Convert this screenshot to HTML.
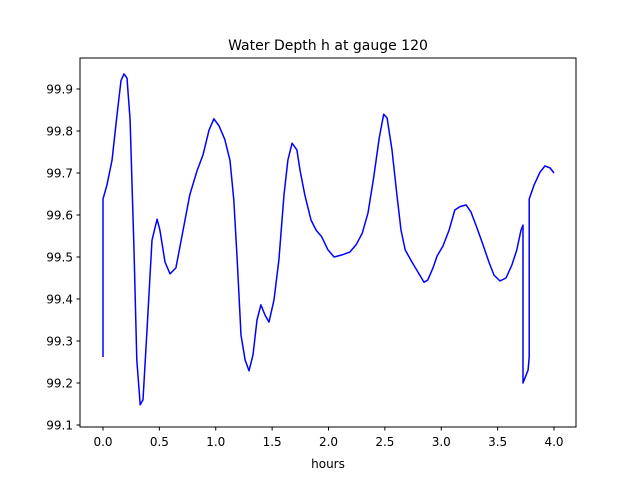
<!DOCTYPE html>
<html><head><meta charset="utf-8"><style>
body{margin:0;background:#fff}
svg{display:block;font-family:"DejaVu Sans","Liberation Sans",sans-serif}
</style></head><body>
<svg id="chart" width="640" height="480">
<rect x="0" y="0" width="640" height="480" fill="#fff"/>
<text x="328" y="50" text-anchor="middle" font-size="14">Water Depth h at gauge 120</text>
<g id="ticks"></g>
<path id="line" fill="none" stroke="#0000ff" stroke-width="1.5" stroke-linejoin="round"/>
<rect x="80" y="58" width="496" height="369" fill="none" stroke="#000" stroke-width="1"/>
<text x="328" y="468" text-anchor="middle" font-size="12">hours</text>
</svg>
<script>
const xTicks=[0,0.5,1,1.5,2,2.5,3,3.5,4];
const yTicks=[99.1,99.2,99.3,99.4,99.5,99.6,99.7,99.8,99.9];
const hours=[0,0,0.035,0.08,0.124,0.16,0.186,0.213,0.24,0.275,0.30,0.33,0.355,0.39,0.435,0.48,0.505,0.55,0.594,0.647,0.71,0.77,0.834,0.887,0.94,0.984,1.03,1.08,1.126,1.16,1.19,1.224,1.26,1.295,1.33,1.366,1.40,1.437,1.472,1.517,1.56,1.605,1.64,1.677,1.72,1.747,1.79,1.845,1.89,1.94,1.996,2.05,2.12,2.19,2.245,2.3,2.35,2.40,2.45,2.49,2.52,2.563,2.607,2.643,2.68,2.74,2.794,2.847,2.88,2.927,2.962,3.015,3.07,3.12,3.166,3.22,3.264,3.317,3.37,3.423,3.468,3.52,3.574,3.627,3.67,3.707,3.725,3.725,3.77,3.78,3.78,3.823,3.876,3.92,3.965,4.0];
const depth=[99.262,99.638,99.671,99.73,99.838,99.92,99.936,99.926,99.826,99.517,99.255,99.148,99.16,99.326,99.54,99.59,99.564,99.488,99.46,99.474,99.564,99.648,99.705,99.743,99.802,99.829,99.812,99.78,99.73,99.636,99.493,99.314,99.255,99.229,99.267,99.35,99.386,99.362,99.345,99.398,99.493,99.648,99.731,99.771,99.755,99.707,99.648,99.588,99.564,99.548,99.517,99.5,99.505,99.512,99.529,99.557,99.605,99.688,99.783,99.84,99.831,99.755,99.648,99.564,99.517,99.488,99.464,99.44,99.445,99.474,99.502,99.526,99.564,99.612,99.62,99.624,99.607,99.569,99.529,99.488,99.457,99.443,99.45,99.481,99.517,99.564,99.576,99.2,99.231,99.262,99.638,99.671,99.702,99.717,99.712,99.7];
const X=h=>103+h*112.75;
const Y=v=>89+(99.9-v)*420;
const ns="http://www.w3.org/2000/svg";
const g=document.getElementById('ticks');
function mk(tag,attrs,txt){const e=document.createElementNS(ns,tag);for(const k in attrs)e.setAttribute(k,attrs[k]);if(txt!==undefined)e.textContent=txt;g.appendChild(e);return e;}
xTicks.forEach(t=>{
  const l=mk('line',{x1:X(t),x2:X(t),y1:427,y2:430.5,stroke:'#000'});
  
  
  const s=mk('text',{x:X(t),y:446,'text-anchor':'middle','font-size':12},t.toFixed(1));
  
  
});
yTicks.forEach(t=>{
  const l=mk('line',{x1:76.5,x2:80,y1:Y(t),y2:Y(t),stroke:'#000'});
  
  
  const s=mk('text',{x:73,y:Y(t)+4.5,'text-anchor':'end','font-size':12},t.toFixed(1));
  
  
});
document.getElementById('line').setAttribute('d',hours.map((h,i)=>(i?'L':'M')+X(h).toFixed(1)+','+Y(depth[i]).toFixed(1)).join(''));
</script>
</body></html>
